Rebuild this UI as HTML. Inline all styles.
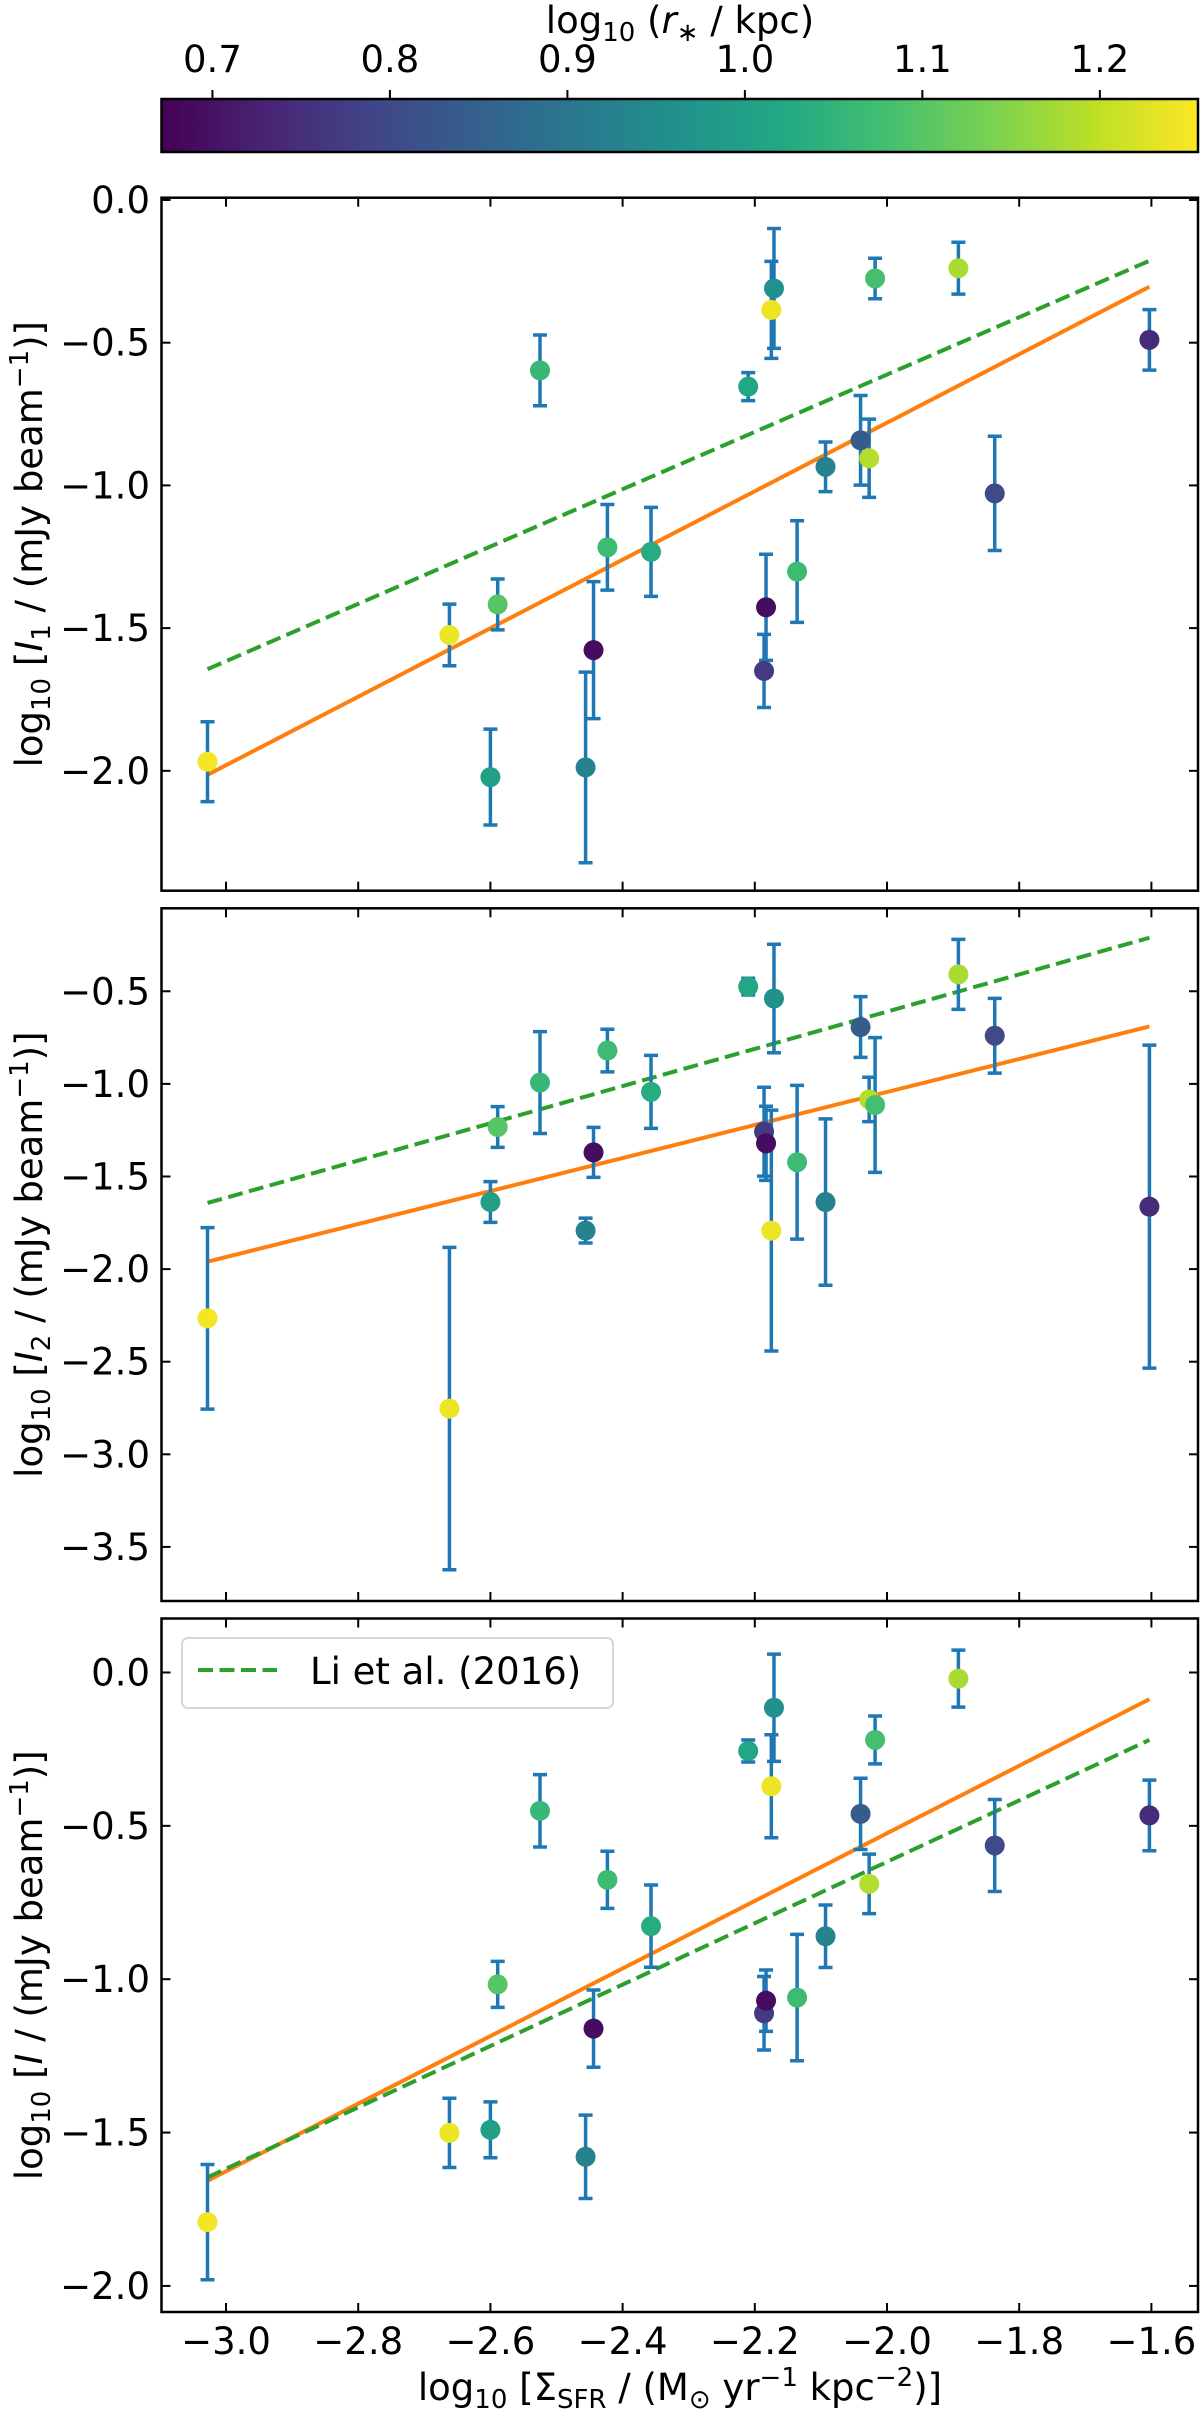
<!DOCTYPE html>
<html><head><meta charset="utf-8"><style>
html,body{margin:0;padding:0;background:#fff;}
svg{display:block;font-family:"DejaVu Sans","Liberation Sans",sans-serif;}
</style></head><body>
<svg id="chart" width="1200" height="2416" viewBox="0 0 1200 2416" xmlns="http://www.w3.org/2000/svg">
<defs>
<linearGradient id="vir" x1="0" x2="1" y1="0" y2="0">
<stop offset="0" stop-color="#440154"/><stop offset="0.1" stop-color="#482475"/><stop offset="0.2" stop-color="#414487"/><stop offset="0.3" stop-color="#355f8d"/><stop offset="0.4" stop-color="#2a788e"/><stop offset="0.5" stop-color="#21918c"/><stop offset="0.6" stop-color="#22a884"/><stop offset="0.7" stop-color="#44bf70"/><stop offset="0.8" stop-color="#7ad151"/><stop offset="0.9" stop-color="#bddf26"/><stop offset="1" stop-color="#fde725"/>
</linearGradient>
</defs>
</svg>
<script>
// ---- data ----
const sfr = [-3.028,-2.662,-2.600,-2.589,-2.525,-2.456,-2.444,-2.423,-2.357,-2.210,-2.186,-2.183,-2.175,-2.171,-2.136,-2.093,-2.040,-2.027,-2.018,-1.892,-1.837,-1.603];
const rstar = [1.245,1.24,1.0,1.1,1.06,0.93,0.69,1.07,1.03,1.02,0.77,0.69,1.24,0.96,1.07,0.93,0.84,1.19,1.08,1.18,0.80,0.74];
const i1 = [-1.968,-1.524,-2.022,-1.417,-0.597,-1.988,-1.577,-1.217,-1.233,-0.654,-1.650,-1.427,-0.385,-0.310,-1.302,-0.935,-0.842,-0.905,-0.275,-0.239,-1.028,-0.490];
const e1 = [0.14,0.108,0.168,0.089,0.124,0.334,0.24,0.15,0.156,0.049,0.128,0.186,0.17,0.21,0.178,0.087,0.157,0.137,0.071,0.091,0.2,0.106];
const i2 = [-2.266,-2.753,-1.638,-1.233,-0.993,-1.792,-1.370,-0.820,-1.043,-0.475,-1.258,-1.321,-1.792,-0.539,-1.423,-1.638,-0.693,-1.084,-1.114,-0.409,-0.740,-1.663];
const e2 = [0.49,0.87,0.11,0.11,0.275,0.067,0.135,0.115,0.197,0.045,0.24,0.2,0.65,0.293,0.415,0.449,0.164,0.12,0.364,0.189,0.202,0.872];
const i3 = [-1.792,-1.501,-1.491,-1.017,-0.451,-1.579,-1.161,-0.676,-0.827,-0.256,-1.111,-1.070,-0.371,-0.115,-1.060,-0.860,-0.461,-0.689,-0.220,-0.020,-0.564,-0.466];
const e3 = [0.188,0.113,0.091,0.075,0.118,0.136,0.126,0.093,0.134,0.036,0.12,0.1,0.168,0.175,0.206,0.102,0.116,0.097,0.078,0.093,0.15,0.115];
const fitX = [-3.028,-1.603];
const fit1 = [-2.014,-0.304];
const fit2 = [-1.960,-0.690];
const fit3 = [-1.657,-0.087];
const liX = [-3.028,-1.603];
const li1 = [-1.644,-0.213];
const li2 = [-1.643,-0.211];
const li3 = [-1.646,-0.220];
const xTicks = [-3.0,-2.8,-2.6,-2.4,-2.2,-2.0,-1.8,-1.6];
const yTicks1 = [0.0,-0.5,-1.0,-1.5,-2.0];
const yTicks2 = [-0.5,-1.0,-1.5,-2.0,-2.5,-3.0,-3.5];
const yTicks3 = [0.0,-0.5,-1.0,-1.5,-2.0];
const cbTicks = [0.7,0.8,0.9,1.0,1.1,1.2];

const NS="http://www.w3.org/2000/svg";
const svg=document.getElementById('chart');
function el(tag,attrs,parent){const e=document.createElementNS(NS,tag);for(const k in attrs)e.setAttribute(k,attrs[k]);(parent||svg).appendChild(e);return e;}
const fmt=v=>(v<0?'\u2212':'')+Math.abs(v).toFixed(1);

// viridis
const vstops=['#440154','#482475','#414487','#355f8d','#2a788e','#21918c','#22a884','#44bf70','#7ad151','#bddf26','#fde725'];
function hex(h){return [parseInt(h.substr(1,2),16),parseInt(h.substr(3,2),16),parseInt(h.substr(5,2),16)];}
function viridis(t){t=Math.max(0,Math.min(1,t));const p=t*10;const i=Math.min(9,Math.floor(p));const f=p-i;const a=hex(vstops[i]),b=hex(vstops[i+1]);return 'rgb('+a.map((c,k)=>Math.round(c+(b[k]-c)*f)).join(',')+')';}
const cMin=0.6713,cMax=1.2553;

const L=161.5,R=1198,X0=-3.0976,X1=-1.5295;
const xs=v=>L+(v-X0)/(X1-X0)*(R-L);

// colorbar
const cbT=99,cbB=152;
const cbx=v=>L+(v-cMin)/(cMax-cMin)*(R-L);
const cbRect=el('rect',{x:L,y:cbT,width:R-L,height:cbB-cbT,fill:'url(#vir)',stroke:'#000','stroke-width':2.5});


cbTicks.forEach(v=>{
  const t=el('line',{x1:cbx(v),x2:cbx(v),y1:cbT,y2:cbT-9,stroke:'#000','stroke-width':2});
  
  
  const tx=el('text',{x:cbx(v),y:72,'font-size':37,'text-anchor':'middle'});
  tx.textContent=v.toFixed(1);
  
  
});
const cbl=el('text',{x:680,y:33,'font-size':37,'text-anchor':'middle'});


cbl.innerHTML='log<tspan font-size="26" dy="8">10</tspan><tspan dy="-8"> (</tspan><tspan font-style="italic">r</tspan><tspan font-size="26" dy="8">\u2217</tspan><tspan dy="-8"> / kpc)</tspan>';

function panel(name,top,bot,Y0,Y1,yTicks,ys,es,fit,li,ylabelSub,showX,legend){
  const g=el('g',{});
  
  
  const yy=v=>bot-(v-Y0)/(Y1-Y0)*(bot-top);
  const clip=el('clipPath',{id:'c'+name},g);
  el('rect',{x:L,y:top,width:R-L,height:bot-top},clip);
  const plot=el('g',{'clip-path':'url(#c'+name+')'},g);
  // lines
  const fl=el('line',{x1:xs(fitX[0]),y1:yy(fit[0]),x2:xs(fitX[1]),y2:yy(fit[1]),stroke:'#ff7f0e','stroke-width':4},plot);
  
  
  const ll=el('line',{x1:xs(liX[0]),y1:yy(li[0]),x2:xs(liX[1]),y2:yy(li[1]),stroke:'#2ca02c','stroke-width':4,'stroke-dasharray':'15 6.5'},plot);
  
  
  // error bars
  sfr.forEach((x,i)=>{
    const cx=xs(x),a=yy(ys[i]+es[i]),b=yy(ys[i]-es[i]);
    const eb=el('path',{d:`M${cx},${a}V${b}M${cx-7},${a}H${cx+7}M${cx-7},${b}H${cx+7}`,stroke:'#1f77b4','stroke-width':3.5,fill:'none'},plot);
    
    
  });
  sfr.forEach((x,i)=>{
    const c=el('circle',{cx:xs(x),cy:yy(ys[i]),r:10,fill:viridis((rstar[i]-cMin)/(cMax-cMin))},plot);
    
    
  });
  // frame
  const fr=el('rect',{x:L,y:top,width:R-L,height:bot-top,fill:'none',stroke:'#000','stroke-width':2.5},g);
  
  
  xTicks.forEach(v=>{
    const x=xs(v);
    el('line',{x1:x,x2:x,y1:bot,y2:bot-9,stroke:'#000','stroke-width':2},g);
    el('line',{x1:x,x2:x,y1:top,y2:top+9,stroke:'#000','stroke-width':2},g);
    if(showX){
      const t=el('text',{x:x,y:2354,'font-size':37,'text-anchor':'middle'},g);
      t.textContent=fmt(v);
      
      
    }
  });
  yTicks.forEach(v=>{
    const y=yy(v);
    el('line',{x1:L,x2:L+9,y1:y,y2:y,stroke:'#000','stroke-width':2},g);
    el('line',{x1:R,x2:R-9,y1:y,y2:y,stroke:'#000','stroke-width':2},g);
    const t=el('text',{x:150,y:y+13,'font-size':37,'text-anchor':'end'},g);
    t.textContent=fmt(v);
    
    
  });
  const cy=(top+bot)/2;
  const yl=el('text',{x:0,y:0,'font-size':37,'text-anchor':'middle',transform:`translate(42,${cy}) rotate(-90)`},g);
  
  
  yl.innerHTML='log<tspan font-size="26" dy="8">10</tspan><tspan dy="-8"> [</tspan><tspan font-style="italic">I</tspan>'+(ylabelSub?'<tspan font-size="26" dy="8">'+ylabelSub+'</tspan><tspan dy="-8"> / (mJy beam</tspan>':'<tspan> / (mJy beam</tspan>')+'<tspan font-size="26" dy="-14">\u22121</tspan><tspan dy="14">)]</tspan>';
  if(legend){
    const lg=el('g',{},g);
    
    
    el('rect',{x:182,y:1638,width:431,height:70,rx:6,fill:'#fff','fill-opacity':0.8,stroke:'#d6d6d6','stroke-width':2},lg);
    const s=el('line',{x1:198,x2:277,y1:1670,y2:1670,stroke:'#2ca02c','stroke-width':4,'stroke-dasharray':'15 6.5'},lg);
    
    
    const t=el('text',{x:310,y:1684,'font-size':37},lg);
    t.textContent='Li et al. (2016)';
    
    
  }
}
panel('panel-i1',197.7,890.7,-2.420,0.008,yTicks1,i1,e1,fit1,li1,'1',false,false);
panel('panel-i2',908.3,1601,-3.792,-0.052,yTicks2,i2,e2,fit2,li2,'2',false,false);
panel('panel-i',1618.5,2312,-2.085,0.176,yTicks3,i3,e3,fit3,li3,'',true,true);

const xl=el('text',{x:680,y:2400,'font-size':37,'text-anchor':'middle'});


xl.innerHTML='log<tspan font-size="26" dy="8">10</tspan><tspan dy="-8"> [\u03A3</tspan><tspan font-size="26" dy="8">SFR</tspan><tspan dy="-8"> / (M</tspan><tspan font-size="26" dy="8">\u2299</tspan><tspan dy="-8"> yr</tspan><tspan font-size="26" dy="-14">\u22121</tspan><tspan dy="14"> kpc</tspan><tspan font-size="26" dy="-14">\u22122</tspan><tspan dy="14">)]</tspan>';
</script>
</body></html>
